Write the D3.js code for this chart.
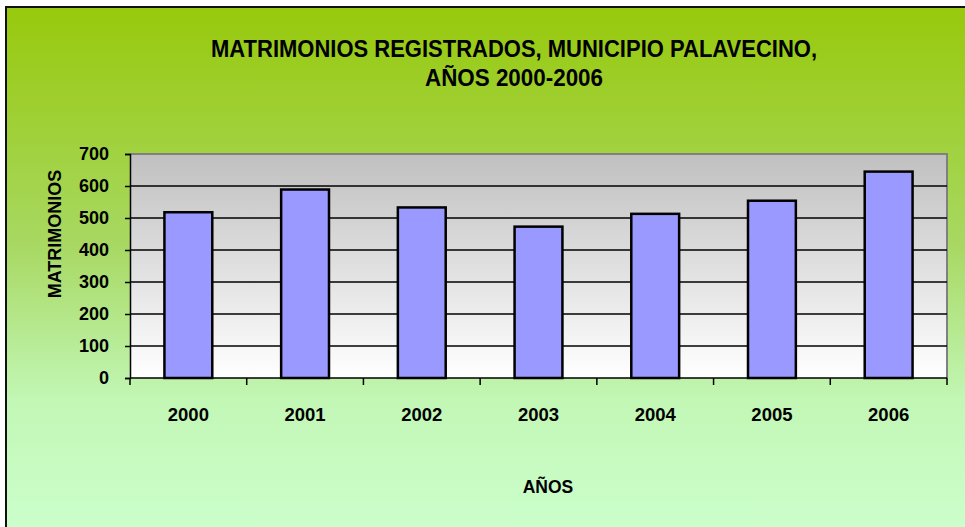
<!DOCTYPE html>
<html>
<head>
<meta charset="utf-8">
<script src="https://cdn.jsdelivr.net/npm/d3@7"></script>
<style>
  html, body { margin: 0; padding: 0; background: #fff; }
  svg { display: block; }
  text { font-family: "Liberation Sans", Arial, sans-serif; font-weight: bold; fill: #000; }
  .narrow { font-family: "Liberation Sans Narrow", "Arial Narrow", "Liberation Sans", Arial, sans-serif; }
</style>
</head>
<body>
<div id="chart"></div>
<script>
// datos
const years = ["2000", "2001", "2002", "2003", "2004", "2005", "2006"];
const matrimonios = [518, 589, 533, 473, 513, 554, 645];
const yTicks = [0, 100, 200, 300, 400, 500, 600, 700];
const titleLines = ["MATRIMONIOS REGISTRADOS, MUNICIPIO PALAVECINO,", "AÑOS 2000-2006"];

const width = 965, height = 527;
const plot = { left: 130, right: 947, top: 154, bottom: 378 };

const svg = d3.select("#chart").append("svg")
  .attr("width", width)
  .attr("height", height);

const defs = svg.append("defs");

// fondo verde degradado
const bgGrad = defs.append("linearGradient")
  .attr("id", "bg").attr("x1", 0).attr("y1", 0).attr("x2", 0).attr("y2", 1);
bgGrad.append("stop").attr("offset", "0%").attr("stop-color", "#97c90c");
bgGrad.append("stop").attr("offset", "45%").attr("stop-color", "#a8d862");
bgGrad.append("stop").attr("offset", "75%").attr("stop-color", "#c2f7b6");
bgGrad.append("stop").attr("offset", "100%").attr("stop-color", "#ccffcc");

// area del grafico gris -> blanco
const plotGrad = defs.append("linearGradient")
  .attr("id", "plotbg").attr("x1", 0).attr("y1", 0).attr("x2", 0).attr("y2", 1);
plotGrad.append("stop").attr("offset", "0%").attr("stop-color", "#c0c0c0");
plotGrad.append("stop").attr("offset", "100%").attr("stop-color", "#ffffff");

svg.append("rect")
  .attr("x", 6).attr("y", 7)
  .attr("width", width).attr("height", height)
  .attr("fill", "url(#bg)")
  .attr("stroke", "#111")
  .attr("stroke-width", 2);

// escalas
const x = d3.scaleBand()
  .domain(years)
  .range([plot.left, plot.right])
  .paddingInner(0.59)
  .paddingOuter(0.295);

const y = d3.scaleLinear()
  .domain([0, 700])
  .range([plot.bottom, plot.top]);

svg.append("rect")
  .attr("x", plot.left).attr("y", plot.top)
  .attr("width", plot.right - plot.left)
  .attr("height", plot.bottom - plot.top)
  .attr("fill", "url(#plotbg)");

// borde gris arriba y derecha
svg.append("path")
  .attr("d", `M${plot.left},${plot.top}H${plot.right}V${plot.bottom}`)
  .attr("fill", "none")
  .attr("stroke", "#808080")
  .attr("stroke-width", 2);

// lineas de division
svg.append("g")
  .selectAll("line")
  .data(yTicks.filter(d => d > 0 && d < 700))
  .join("line")
  .attr("x1", plot.left).attr("x2", plot.right)
  .attr("y1", d => y(d)).attr("y2", d => y(d))
  .attr("stroke", "#000")
  .attr("stroke-width", 1.7);

// barras
svg.append("g")
  .selectAll("rect")
  .data(years)
  .join("rect")
  .attr("x", d => x(d))
  .attr("y", (d, i) => y(matrimonios[i]))
  .attr("width", x.bandwidth())
  .attr("height", (d, i) => y(0) - y(matrimonios[i]))
  .attr("fill", "#9999ff")
  .attr("stroke", "#000")
  .attr("stroke-width", 2.5);

// eje Y
const yAxis = svg.append("g")
  .attr("transform", `translate(${plot.left},0)`)
  .call(d3.axisLeft(y).tickValues(yTicks).tickSize(5).tickPadding(16));
yAxis.select(".domain").attr("stroke", "#000").attr("stroke-width", 1.5);
yAxis.selectAll(".tick line").attr("stroke", "#000").attr("stroke-width", 1.5);
yAxis.selectAll("text")
  .attr("font-size", 18)
  .style("font-weight", "bold")
  .style("font-family", "'Liberation Sans', Arial, sans-serif")
  .attr("fill", "#000");

// eje X: marcas en los limites de las categorias
const xAxis = svg.append("g")
  .attr("transform", `translate(0,${plot.bottom})`);
xAxis.append("line")
  .attr("x1", plot.left).attr("x2", plot.right)
  .attr("stroke", "#000").attr("stroke-width", 1.5);
xAxis.selectAll("line.tk")
  .data(d3.range(years.length + 1))
  .join("line")
  .attr("class", "tk")
  .attr("x1", i => plot.left + i * x.step())
  .attr("x2", i => plot.left + i * x.step())
  .attr("y1", 0).attr("y2", 7)
  .attr("stroke", "#000").attr("stroke-width", 1.5);
xAxis.selectAll("text")
  .data(years)
  .join("text")
  .attr("x", d => x(d) + x.bandwidth() / 2)
  .attr("y", 43)
  .attr("text-anchor", "middle")
  .attr("font-size", 18.5)
  .text(d => d);

// titulos
svg.append("g")
  .selectAll("text")
  .data(titleLines)
  .join("text")
  .attr("class", "narrow")
  .attr("x", 514)
  .attr("y", (d, i) => 57 + i * 28.5)
  .attr("text-anchor", "middle")
  .attr("font-size", 24)
  .attr("textLength", (d, i) => i === 0 ? 606 : 178)
  .attr("lengthAdjust", "spacingAndGlyphs")
  .text(d => d);

svg.append("text")
  .attr("x", 548)
  .attr("y", 493)
  .attr("text-anchor", "middle")
  .attr("font-size", 17.5)
  .text("AÑOS");

svg.append("text")
  .attr("transform", "translate(61,234) rotate(-90)")
  .attr("text-anchor", "middle")
  .attr("font-size", 18)
  .text("MATRIMONIOS");
</script>
</body>
</html>
